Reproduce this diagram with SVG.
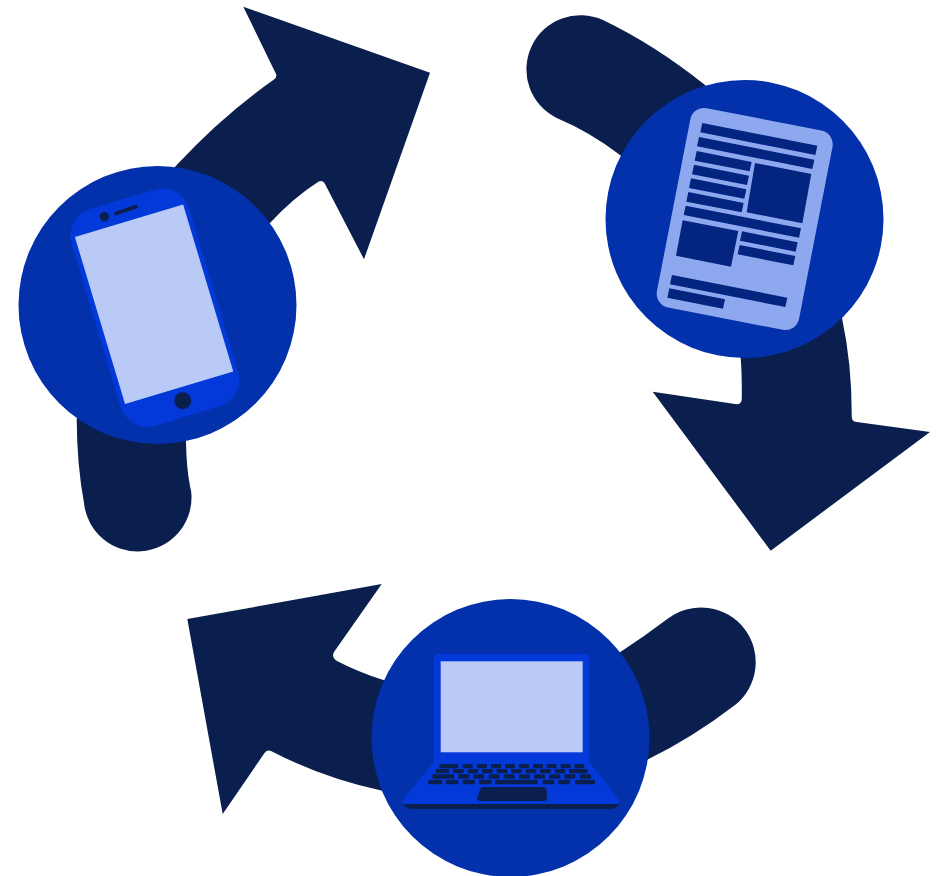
<svg xmlns="http://www.w3.org/2000/svg" width="946" height="876" viewBox="0 0 946 876">
<style>
.arrow{fill:#0a1f4e}
.disc{fill:#0331ab}
.bright{fill:#0339d9}
.light{fill:#b8caf5}
.dark{fill:#0a1f4e}
.paper{fill:#8ea8f0}
.ink{fill:#03247f}
</style>
<rect width="946" height="876" fill="#fff"/>
<g id="connectors">
<path class="arrow" d="M243.300 6.700L430 72.700L364 259.300L325 184Q323 179.500 318.300 181.700Q293 198 271 222L180 300L186 443Q186.500 468 190 486Q191.500 492 191.500 496A53.900 53.900 0 0 1 84 503Q77 465 76.700 420L100 250L176.700 165Q222 116 273.300 80Q277.500 77.500 276 74Z"/>
<path class="arrow" d="M652.700 391.700L735 404Q742 405 741.800 398Q742 375 740.700 358L700 220L620 155Q590 132 556.700 118A54.200 54.200 0 0 1 603 20Q655 45 705 85L800 220L842 318Q852 365 851.700 416Q851.700 421 855 421.700L930 432L770.700 550.700Z"/>
<path class="arrow" d="M381.700 584L187.300 619L222.700 814L264.500 753Q267.500 749 272 751.500Q323 778 383.300 791L510 800L646.700 760Q692 738 735 705A54.700 54.700 0 0 0 668.300 618.300Q645 636 620 652.300L500 700L383.300 680Q358 672 337 661Q331 657 334 652Z"/>
</g>
<g id="phone">
<circle class="disc" cx="157.500" cy="305" r="139"/>
<g transform="translate(154 304) rotate(-16.700)">
<rect class="bright" x="-61.500" y="-109.500" width="122.500" height="226.500" rx="28"/>
<rect class="light" x="-56.500" y="-87" width="113" height="174.500"/>
</g>
<circle class="dark" cx="104.300" cy="216.700" r="4.700"/>
<path d="M116 213.500L136 206.700" stroke="#0a1f4e" stroke-width="3.800" stroke-linecap="round" fill="none"/>
<circle class="dark" cx="182.700" cy="400.700" r="8.500"/>
</g>
<g id="document">
<circle class="disc" cx="744.500" cy="219" r="139"/>
<rect class="paper" x="-72.400" y="-101.500" width="144.800" height="203" rx="14" transform="translate(744.700 219) rotate(11)"/>
<g class="ink" transform="translate(640 90) scale(.33333)">
<polygon points="187,99 532,167 526,195 181,127"/>
<polygon points="177,141 523,209 517,237 171,169"/>
<polygon points="170,183 335,216 329,244 164,212"/>
<polygon points="162,224 327,257 321,285 156,253"/>
<polygon points="153,265 319,298 313,326 147,294"/>
<polygon points="145,306 311,339 305,367 139,335"/>
<polygon points="345,219 514,252 487,400 320,367"/>
<polygon points="137,347 483,415 477,443 131,375"/>
<polygon points="128,391 295,423 273,530 108,497"/>
<polygon points="306,424 473,457 467,485 300,452"/>
<polygon points="299,465 466,498 460,526 293,493"/>
<polygon points="96,555 442,623 436,651 90,583"/>
<polygon points="88,595 255,628 249,656 82,623"/>
</g>
</g>
<g id="laptop">
<circle class="disc" cx="510.500" cy="738" r="139"/>
<path class="dark" d="M403 803L620 803Q617 809 610 809L413 809Q406 809 403 803Z"/>
<rect class="bright" x="434" y="654" width="155" height="108" rx="3"/>
<path class="bright" d="M435 760L588 760L619 800Q621 804 616 804L406 804Q401 804 403 800Z"/>
<rect class="light" x="440.700" y="661.300" width="142" height="91"/>
<g class="dark" transform="translate(380 620) scale(.33333)">
<rect x="178" y="432" width="57" height="13" rx="3"/><rect x="248" y="432" width="30" height="13" rx="3"/><rect x="291" y="432" width="30" height="13" rx="3"/><rect x="333" y="432" width="30" height="13" rx="3"/><rect x="375" y="432" width="30" height="13" rx="3"/><rect x="417" y="432" width="30" height="13" rx="3"/><rect x="459" y="432" width="30" height="13" rx="3"/><rect x="500" y="432" width="30" height="13" rx="3"/><rect x="542" y="432" width="30" height="13" rx="3"/><rect x="583" y="432" width="30" height="13" rx="3"/>
<rect x="167" y="447" width="40" height="13" rx="3"/><rect x="219" y="447" width="32" height="13" rx="3"/><rect x="263" y="447" width="32" height="13" rx="3"/><rect x="306" y="447" width="32" height="13" rx="3"/><rect x="350" y="447" width="32" height="13" rx="3"/><rect x="393" y="447" width="32" height="13" rx="3"/><rect x="437" y="447" width="32" height="13" rx="3"/><rect x="480" y="447" width="32" height="13" rx="3"/><rect x="524" y="447" width="32" height="13" rx="3"/><rect x="567" y="447" width="56" height="13" rx="3"/>
<rect x="157" y="463" width="66" height="13" rx="3"/><rect x="235" y="463" width="33" height="13" rx="3"/><rect x="280" y="463" width="33" height="13" rx="3"/><rect x="326" y="463" width="33" height="13" rx="3"/><rect x="371" y="463" width="33" height="13" rx="3"/><rect x="417" y="463" width="33" height="13" rx="3"/><rect x="462" y="463" width="33" height="13" rx="3"/><rect x="508" y="463" width="33" height="13" rx="3"/><rect x="553" y="463" width="33" height="13" rx="3"/><rect x="599" y="463" width="34" height="13" rx="3"/>
<rect x="145" y="479" width="42" height="14" rx="3"/><rect x="198" y="479" width="37" height="14" rx="3"/><rect x="248" y="479" width="37" height="14" rx="3"/><rect x="297" y="479" width="38" height="14" rx="3"/><rect x="345" y="479" width="128" height="14" rx="3"/><rect x="488" y="479" width="35" height="14" rx="3"/><rect x="535" y="479" width="35" height="14" rx="3"/><rect x="585" y="479" width="60" height="14" rx="3"/>
</g>
<path class="dark" d="M483 787L543 787Q546 787 546.500 790L547 798Q547 801 544 801L481 801Q477 801 477 798L480 790Q480.500 787 483 787Z"/>
</g>
</svg>
